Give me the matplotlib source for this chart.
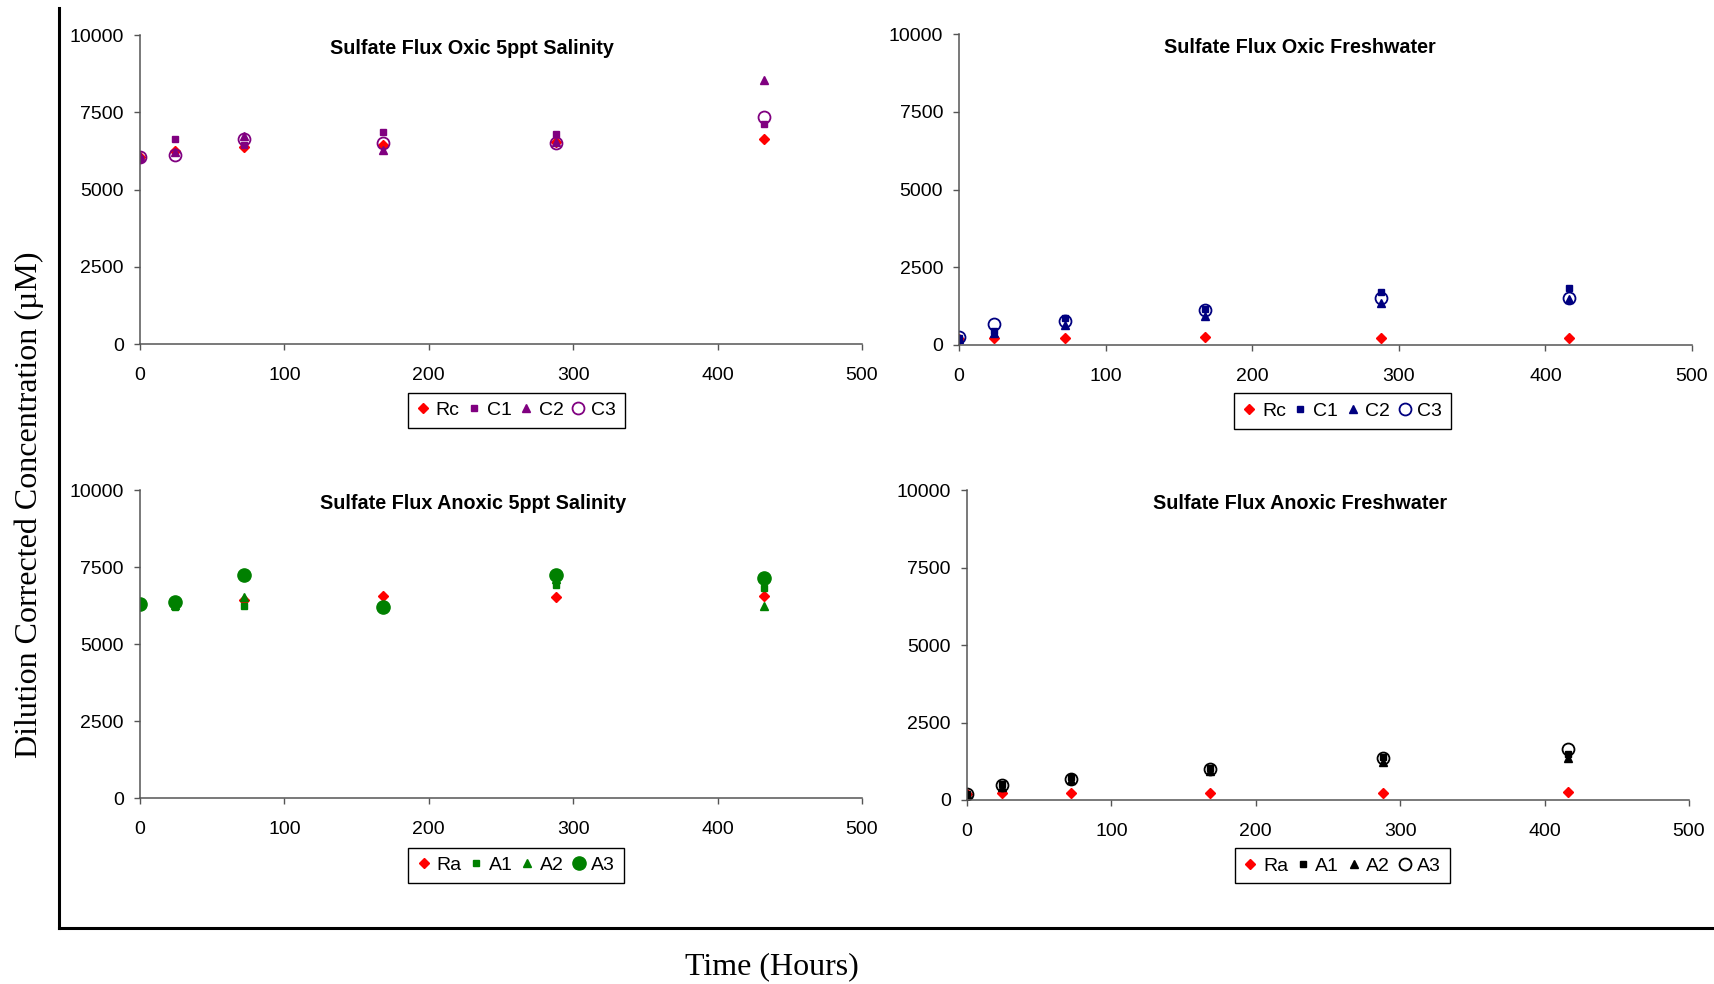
import matplotlib
matplotlib.use("Agg")
import matplotlib.pyplot as plt
from matplotlib.lines import Line2D

# sampling times (hours)
t_saline = [0, 24, 72, 168, 288, 432]
t_fresh = [0, 24, 72, 168, 288, 416]

# Oxic, 5 ppt salinity
oxic_salt_rc = [6050, 6250, 6390, 6440, 6550, 6620]
oxic_salt_c1 = [6000, 6620, 6440, 6860, 6790, 7110]
oxic_salt_c2 = [6100, 6200, 6730, 6280, 6550, 8540]
oxic_salt_c3 = [6060, 6110, 6650, 6510, 6490, 7360]

# Oxic, freshwater
oxic_fresh_rc = [180, 210, 210, 270, 210, 210]
oxic_fresh_c1 = [220, 450, 860, 1160, 1700, 1830]
oxic_fresh_c2 = [200, 400, 640, 930, 1340, 1490]
oxic_fresh_c3 = [260, 660, 770, 1120, 1500, 1500]

# Anoxic, 5 ppt salinity
anox_salt_ra = [6300, 6300, 6430, 6570, 6520, 6560]
anox_salt_a1 = [6300, 6210, 6240, 6250, 6920, 6810]
anox_salt_a2 = [6300, 6280, 6540, 6250, 7100, 6240]
anox_salt_a3 = [6310, 6350, 7240, 6210, 7240, 7160]

# Anoxic, freshwater
anox_fresh_ra = [200, 210, 210, 210, 210, 270]
anox_fresh_a1 = [200, 500, 740, 1040, 1400, 1470]
anox_fresh_a2 = [200, 430, 660, 930, 1230, 1360]
anox_fresh_a3 = [200, 470, 690, 990, 1340, 1650]

SANS = ["Liberation Sans", "DejaVu Sans"]
SERIF = ["Liberation Serif", "DejaVu Serif"]
RED = "#ff0000"

fig = plt.figure(figsize=(17.15, 9.84), dpi=100)


def panel(rect, title, t, ref, s1, s2, s3, names, color, filled_circle, leg_x, leg_y, title_x):
    ax = fig.add_axes(rect)
    ax.plot(t, ref, ls="none", marker="D", ms=4.8, color=RED, mec=RED, label=names[0])
    ax.plot(t, s1, ls="none", marker="s", ms=5, color=color, mec=color, label=names[1])
    ax.plot(t, s2, ls="none", marker="^", ms=6, color=color, mec=color, label=names[2])
    if filled_circle:
        ax.plot(t, s3, ls="none", marker="o", ms=9.5, color=color, mec=color, label=names[3])
    else:
        ax.plot(t, s3, ls="none", marker="o", ms=8.6, mfc="none", mec=color, mew=1.3,
                label=names[3])
    ax.set_xlim(0, 500)
    ax.set_ylim(0, 10000)
    ax.set_xticks(range(0, 501, 100))
    ax.set_yticks(range(0, 10001, 2500))
    for side in ("top", "right"):
        ax.spines[side].set_visible(False)
    for side in ("left", "bottom"):
        ax.spines[side].set_color("#555555")
        ax.spines[side].set_linewidth(1.1)
    ax.tick_params(axis="both", direction="out", length=4.5, width=1.0, color="#555555",
                   labelsize=14, labelcolor="black")
    ax.tick_params(axis="x", pad=12)
    ax.tick_params(axis="y", pad=7)
    for lab in ax.get_xticklabels() + ax.get_yticklabels():
        lab.set_family(SANS)
    ax.text(title_x, 0.957, title, transform=ax.transAxes, ha="center", va="center",
            fontsize=14.2, fontweight="bold", family=SANS)
    leg = ax.legend(loc="upper center", bbox_to_anchor=(leg_x, leg_y), ncol=4,
                    frameon=True, fancybox=False, edgecolor="black", framealpha=1,
                    prop={"family": SANS, "size": 14}, handlelength=0.7,
                    handletextpad=0.3, columnspacing=0.4, borderpad=0.45,
                    borderaxespad=0, numpoints=1)
    leg.get_frame().set_linewidth(1.0)
    return ax


panel([0.0816, 0.6504, 0.4210, 0.3140], "Sulfate Flux Oxic 5ppt Salinity", t_saline,
      oxic_salt_rc, oxic_salt_c1, oxic_salt_c2, oxic_salt_c3,
      ["Rc", "C1", "C2", "C3"], "#800080", False, 0.521, -0.158, 0.46)
panel([0.5592, 0.6494, 0.4274, 0.3160], "Sulfate Flux Oxic Freshwater", t_fresh,
      oxic_fresh_rc, oxic_fresh_c1, oxic_fresh_c2, oxic_fresh_c3,
      ["Rc", "C1", "C2", "C3"], "#000080", False, 0.523, -0.156, 0.465)
panel([0.0816, 0.1890, 0.4210, 0.3130], "Sulfate Flux Anoxic 5ppt Salinity", t_saline,
      anox_salt_ra, anox_salt_a1, anox_salt_a2, anox_salt_a3,
      ["Ra", "A1", "A2", "A3"], "#008000", True, 0.521, -0.162, 0.461)
panel([0.5638, 0.1870, 0.4210, 0.3150], "Sulfate Flux Anoxic Freshwater", t_fresh,
      anox_fresh_ra, anox_fresh_a1, anox_fresh_a2, anox_fresh_a3,
      ["Ra", "A1", "A2", "A3"], "black", False, 0.52, -0.156, 0.462)

# outer frame: left and bottom rules around the four panels
fig.add_artist(Line2D([0.0344, 0.0344], [0.992, 0.0569], transform=fig.transFigure,
                      color="black", lw=2.2))
fig.add_artist(Line2D([0.0344, 1.0], [0.0569, 0.0569], transform=fig.transFigure,
                      color="black", lw=2.2))

fig.text(0.450, 0.003, "Time (Hours)", ha="center", va="bottom", fontsize=23, family=SERIF)
fig.text(0.0170, 0.487, "Dilution Corrected Concentration (\u00b5M)", ha="center",
         va="center", rotation=90, fontsize=23, family=SERIF)

fig.savefig("out.png", dpi=100, facecolor="white")
